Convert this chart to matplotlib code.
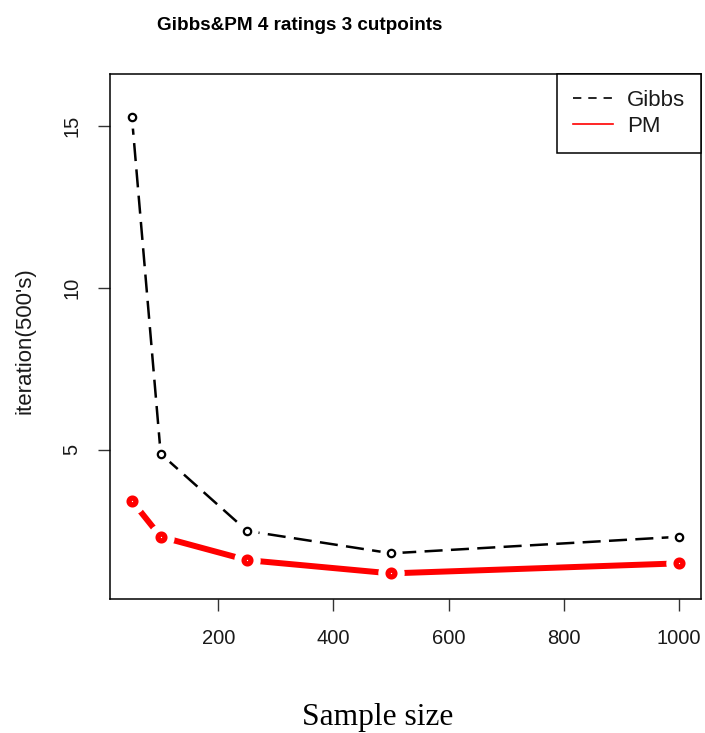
import matplotlib
matplotlib.use("Agg")
import matplotlib.pyplot as plt
from matplotlib.lines import Line2D

plt.rcParams['font.family'] = ['Liberation Sans', 'DejaVu Sans']
plt.rcParams['lines.scale_dashes'] = False

sample_size = [50, 100, 250, 500, 1000]
gibbs = [15.28, 4.88, 2.50, 1.81, 2.32]
pm = [3.43, 2.32, 1.60, 1.19, 1.50]
x_ticks = [200, 400, 600, 800, 1000]
y_ticks = [5, 10, 15]
series_names = ["Gibbs", "PM"]

W, H = 705, 733
fig = plt.figure(figsize=(W / 100, H / 100), dpi=100)
ax = fig.add_axes([110 / W, 1 - 599 / H, (701 - 110) / W, (599 - 74) / H])

txt = '#1a1a1a'

# Gibbs: dashed black line with open circles, gaps around points (type="b")
ax.plot(sample_size, gibbs, color='black', lw=1.8, dashes=(13, 6),
        solid_capstyle='butt', dash_capstyle='butt', zorder=2)
# PM: thick red line with heavy circles
ax.plot(sample_size, pm, color='red', lw=4.3, solid_capstyle='butt', zorder=2)

# white discs open the line around each point
ax.plot(sample_size, gibbs, ls='none', marker='o', ms=16, mfc='white',
        mec='none', zorder=3)
ax.plot(sample_size, pm, ls='none', marker='o', ms=19, mfc='white',
        mec='none', zorder=3)

ax.plot(sample_size, gibbs, ls='none', marker='o', ms=5.3, mfc='white',
        mec='black', mew=1.6, zorder=4)
ax.plot(sample_size, pm, ls='none', marker='o', ms=4.9, mfc='white',
        mec='red', mew=3.8, zorder=4)

ax.set_xlim(12, 1038)
ax.set_ylim(0.4, 16.6)
ax.set_xticks(x_ticks)
ax.set_xticklabels([str(v) for v in x_ticks])
ax.set_yticks(y_ticks)
ax.set_yticklabels([str(v) for v in y_ticks], rotation=90, va='center')

for s in ax.spines.values():
    s.set_linewidth(1.1)
    s.set_color('black')

ax.tick_params(axis='both', length=8.6, width=1.0, color='#333333',
               labelsize=14.5, labelcolor=txt)
ax.tick_params(axis='x', pad=13)
ax.tick_params(axis='y', pad=12)

handles = [Line2D([], [], color='black', lw=1.2, dashes=(6, 5)),
           Line2D([], [], color='red', lw=1.2)]
leg = ax.legend(handles, series_names, loc='upper right',
                bbox_to_anchor=(1.0, 1.0), borderaxespad=0, fancybox=False,
                edgecolor='black', framealpha=1, fontsize=16,
                handlelength=1.8, handletextpad=0.65, labelspacing=0.25,
                borderpad=0.7, labelcolor=txt)
leg.get_frame().set_linewidth(1.1)

fig.text(300 / W, 1 - 30 / H, "Gibbs&PM 4 ratings 3 cutpoints",
         ha='center', va='baseline', fontsize=13.6, fontweight='bold',
         color='black')
fig.text(25 / W, 1 - 341 / H, "iteration(500's)", rotation=90,
         ha='center', va='center', fontsize=16, color=txt)
fig.text(378 / W, 1 - 725 / H, "Sample size", ha='center', va='baseline',
         fontsize=22.7, family=['Liberation Serif', 'DejaVu Serif'],
         color='black')

fig.savefig("out.png", dpi=100)
